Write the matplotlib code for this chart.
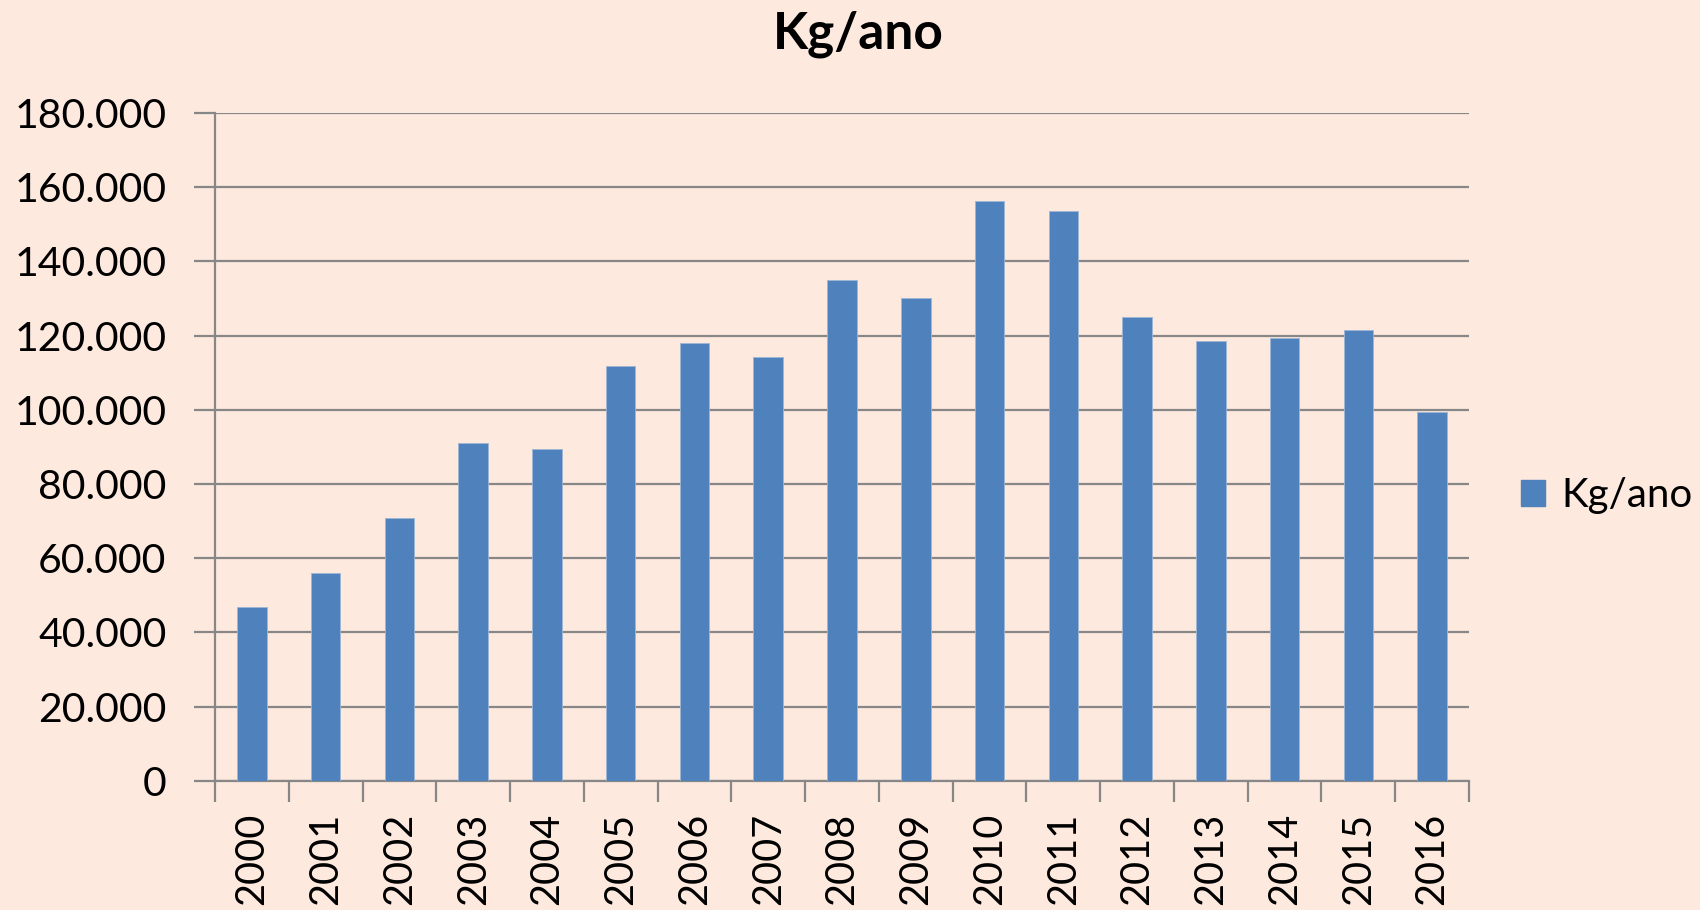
import matplotlib
matplotlib.use("Agg")
import matplotlib.pyplot as plt
from matplotlib.patches import Patch
from matplotlib.ticker import FuncFormatter, FixedLocator

years = ["2000", "2001", "2002", "2003", "2004", "2005", "2006", "2007", "2008",
         "2009", "2010", "2011", "2012", "2013", "2014", "2015", "2016"]
kg_ano = [46700, 55900, 70700, 91000, 89400, 111700, 117900, 114100, 135000,
          130000, 156400, 153700, 125000, 118600, 119300, 121600, 99400]
series_name = "Kg/ano"
title = "Kg/ano"

bg = "#FDE9DE"
bar_color = "#4F81BD"
grid_color = "#878787"
font = ["Lato", "DejaVu Sans"]

plt.rcParams["font.family"] = font

fig = plt.figure(figsize=(17, 9.1), dpi=100, facecolor=bg)
ax = fig.add_axes([0.1265, 0.1421, 0.8641 - 0.1265, 0.8758 - 0.1421])
ax.set_facecolor(bg)

x = list(range(len(years)))
ax.bar(x, kg_ano, width=0.4, color=bar_color, edgecolor="#9EB6D6", linewidth=0.6, zorder=3)

ax.set_xlim(-0.5, len(years) - 0.5)
ax.set_ylim(0, 180000)
ax.set_yticks(range(0, 180001, 20000))
ax.yaxis.set_major_formatter(FuncFormatter(lambda v, p: f"{int(v):,}".replace(",", ".")))
ax.grid(axis="y", color=grid_color, linewidth=1.6, zorder=0)

# category labels at centers, ticks at boundaries
ax.set_xticks(x)
ax.set_xticklabels(years, rotation=90, fontsize=28.5, va="top")
ax.tick_params(axis="x", which="major", length=0, pad=23)
ax.xaxis.set_minor_locator(FixedLocator([i - 0.5 for i in range(len(years) + 1)]))
ax.tick_params(axis="x", which="minor", length=15, width=1.6, color=grid_color)
ax.tick_params(axis="y", length=15, width=1.6, color=grid_color, labelsize=29.5, pad=20)

for s in ["top", "right"]:
    ax.spines[s].set_visible(False)
for s in ["left", "bottom"]:
    ax.spines[s].set_color(grid_color)
    ax.spines[s].set_linewidth(1.6)

fig.text(0.505, 0.962, title, ha="center", va="center", fontsize=37, fontweight="bold")

handle = Patch(facecolor=bar_color, edgecolor=bar_color)
fig.legend([handle], [series_name], loc="center left", bbox_to_anchor=(0.885, 0.455),
           frameon=False, fontsize=29, handlelength=0.6, handleheight=0.6,
           handletextpad=0.4, borderaxespad=0)

fig.savefig("out.png", dpi=100, facecolor=bg)
